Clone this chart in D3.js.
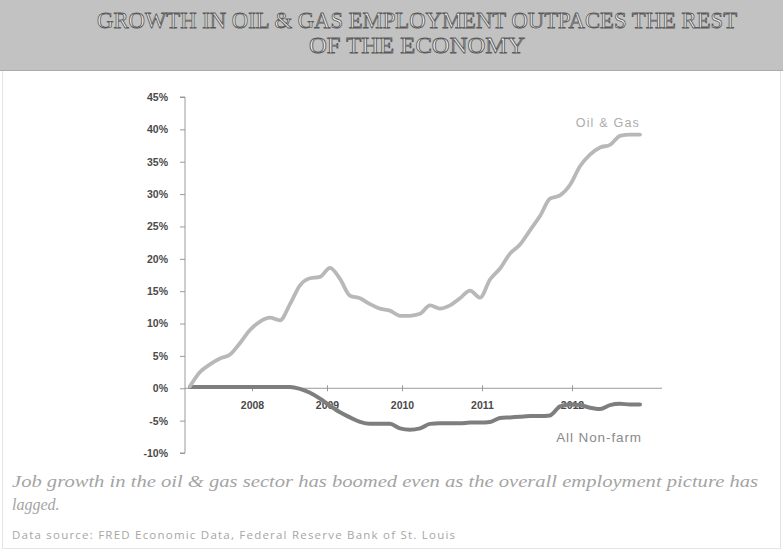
<!DOCTYPE html>
<html>
<head>
<meta charset="utf-8">
<script src="https://cdn.jsdelivr.net/npm/d3@7/dist/d3.min.js"></script>
<style>
  html, body { margin: 0; padding: 0; background: #fff; }
  svg { display: block; }
</style>
</head>
<body>
<svg id="chart" width="783" height="552"></svg>
<script>
// ---- Data ----
const titleLines = ["GROWTH IN OIL & GAS EMPLOYMENT OUTPACES THE REST", "OF THE ECONOMY"];
const seriesNames = ["Oil & Gas", "All Non-farm"];
// observations, evenly spaced in time (index 0 .. 45)
const oilGas = [0.3, 2.5, 3.7, 4.6, 5.2, 7.0, 9.0, 10.3, 10.9, 10.5,
                13.0, 15.9, 17.0, 17.2, 18.6, 16.9, 14.3, 13.9, 13.0, 12.3,
                12.0, 11.2, 11.2, 11.5, 12.8, 12.3, 12.8, 13.9, 15.1, 14.0,
                16.8, 18.5, 20.8, 22.2, 24.4, 26.6, 29.3, 29.8, 31.4, 34.3,
                36.1, 37.2, 37.6, 39.0, 39.2, 39.2];
const nonFarm = [0.2, 0.2, 0.2, 0.2, 0.2, 0.2, 0.2, 0.2, 0.2, 0.2,
                 0.2, -0.1, -0.7, -1.6, -2.7, -3.7, -4.5, -5.2, -5.5, -5.5,
                 -5.5, -6.2, -6.4, -6.2, -5.5, -5.4, -5.4, -5.4, -5.3, -5.3,
                 -5.2, -4.6, -4.5, -4.4, -4.3, -4.3, -4.2, -2.8, -2.5, -2.6,
                 -3.0, -3.2, -2.6, -2.4, -2.5, -2.5];
const xTickLabels = ["2008", "2009", "2010", "2011", "2012"];
const xTickAt = [6.2, 13.7, 21.2, 29.2, 38.2];   // position on the observation index
const yTicks = [-10, -5, 0, 5, 10, 15, 20, 25, 30, 35, 40, 45];
const caption = ["Job growth in the oil & gas sector has boomed even as the overall employment picture has", "lagged."];
const source = "Data source: FRED Economic Data, Federal Reserve Bank of St. Louis";

// ---- Drawing ----
const svg = d3.select("#chart");
const W = 783, H = 552;

// frame
svg.append("rect").attr("x", 2.5).attr("y", 0.5).attr("width", W - 5).attr("height", H - 4)
  .attr("fill", "#fff").attr("stroke", "#c8c8c8").attr("stroke-width", 1).attr("stroke-dasharray", "1,1");

// header band
svg.append("rect").attr("x", 0).attr("y", 0).attr("width", W).attr("height", 70)
  .attr("fill", "#c2c2c2");
svg.append("line").attr("x1", 0).attr("x2", W).attr("y1", 70.5).attr("y2", 70.5)
  .attr("stroke", "#ababab");

svg.selectAll("text.title").data(titleLines).join("text")
  .attr("class", "title")
  .attr("x", 417).attr("y", (d, i) => 28 + i * 25)
  .attr("text-anchor", "middle")
  .attr("font-family", "'Liberation Serif', serif")
  .attr("font-size", 23)
  .attr("fill", "#efefef")
  .attr("stroke", "#5a5a5a").attr("stroke-width", 0.85)
  .attr("textLength", (d, i) => i === 0 ? 640 : 216)
  .attr("lengthAdjust", "spacingAndGlyphs")
  .text(d => d);

const x = d3.scaleLinear().domain([0, oilGas.length - 1]).range([190, 640]);
const y = d3.scaleLinear().domain([-10, 45]).range([453, 97]);

// y axis
const yAxis = svg.append("g").attr("transform", "translate(185,0)")
  .call(d3.axisLeft(y).tickValues(yTicks).tickFormat(d => d + "%").tickSize(5).tickPadding(12));
yAxis.select(".domain").attr("stroke", "#9a9a9a").attr("d", `M-5,${y(45)}H0V${y(-10)}H-5`);
yAxis.selectAll(".tick line").attr("stroke", "#9a9a9a");
yAxis.selectAll(".tick text")
  .attr("font-family", "'Liberation Sans', Arial, sans-serif")
  .attr("font-size", 10.5).attr("font-weight", "bold").attr("fill", "#4a4a4a");

// x axis along zero
const xAxis = svg.append("g").attr("transform", `translate(0,${y(0)})`)
  .call(d3.axisBottom(x).tickValues(xTickAt).tickFormat((d, i) => xTickLabels[i]).tickSize(3).tickPadding(10));
xAxis.select(".domain").attr("stroke", "#9a9a9a").attr("d", `M${x(-0.5)},0H${x(47.2)}`);
xAxis.selectAll(".tick line").attr("stroke", "#9a9a9a").attr("y1", -3);
xAxis.selectAll(".tick text")
  .attr("font-family", "'Liberation Sans', Arial, sans-serif")
  .attr("font-size", 10.5).attr("font-weight", "bold").attr("fill", "#4a4a4a");

const line = d3.line().x((d, i) => x(i)).y(d => y(d)).curve(d3.curveMonotoneX);

svg.append("path").datum(nonFarm).attr("d", line)
  .attr("fill", "none").attr("stroke", "#7e7e7e").attr("stroke-width", 4)
  .attr("stroke-linejoin", "round").attr("stroke-linecap", "round");
svg.append("path").datum(oilGas).attr("d", line)
  .attr("fill", "none").attr("stroke", "#b8b8b8").attr("stroke-width", 3.8)
  .attr("stroke-linejoin", "round").attr("stroke-linecap", "round");

// series labels
svg.append("text").attr("x", x(oilGas.length - 1)).attr("y", 127)
  .attr("text-anchor", "end")
  .attr("font-family", "'Liberation Sans', Arial, sans-serif")
  .attr("font-size", 12.5).attr("letter-spacing", 1.2).attr("fill", "#acacac").text(seriesNames[0]);
svg.append("text").attr("x", x(nonFarm.length - 1) + 2).attr("y", 442)
  .attr("text-anchor", "end")
  .attr("font-family", "'Liberation Sans', Arial, sans-serif")
  .attr("font-size", 13.5).attr("letter-spacing", 0.9).attr("fill", "#8a8a8a").text(seriesNames[1]);

// caption
svg.selectAll("text.caption").data(caption).join("text")
  .attr("class", "caption")
  .attr("x", 12).attr("y", (d, i) => 487 + i * 23)
  .attr("font-family", "'Liberation Serif', serif")
  .attr("font-style", "italic")
  .attr("font-size", 16).attr("fill", "#a4a4a4")
  .attr("textLength", (d, i) => i === 0 ? 746 : null)
  .attr("lengthAdjust", "spacingAndGlyphs")
  .text(d => d);

svg.append("text").attr("x", 12).attr("y", 539)
  .attr("font-family", "'Open Sans', 'Liberation Sans', sans-serif")
  .attr("font-size", 11.5).attr("fill", "#a6a6a6")
  .attr("textLength", 443).attr("lengthAdjust", "spacing")
  .text(source);
</script>
</body>
</html>
